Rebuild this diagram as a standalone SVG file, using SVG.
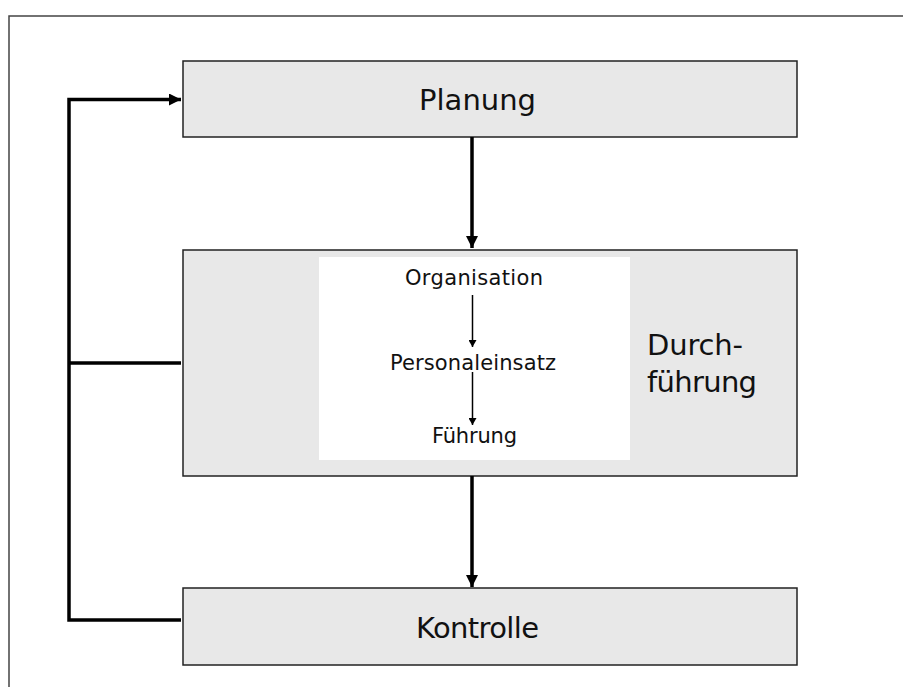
<svg xmlns="http://www.w3.org/2000/svg" width="903" height="687" viewBox="0 0 903 687">
<style>
.box{fill:#e8e8e8;stroke:#222;stroke-width:1.5}
.big{font-family:"DejaVu Sans",sans-serif;font-size:29px;fill:#111}
.small{font-family:"DejaVu Sans",sans-serif;font-size:21px;fill:#111}
.thick{fill:none;stroke:#000;stroke-width:3.5}
.thin{fill:none;stroke:#000;stroke-width:1.5}
</style>
<defs>
<marker id="ah" markerUnits="userSpaceOnUse" markerWidth="12" markerHeight="12" refX="12" refY="6" orient="auto">
<path d="M0,0 L12,6 L0,12 Z" fill="#000"/>
</marker>
<marker id="ahs" markerUnits="userSpaceOnUse" markerWidth="7" markerHeight="8" refX="7" refY="4" orient="auto">
<path d="M0,0 L7,4 L0,8 Z" fill="#000"/>
</marker>
</defs>
<rect width="903" height="687" fill="#fff"/>
<path d="M9,687 V16 H903" fill="none" stroke="#444" stroke-width="1.5"/>
<g id="planung">
<rect class="box" x="183" y="61" width="614" height="76"/>
<text class="big" x="419" y="110" textLength="117">Planung</text>
</g>
<g id="durchfuehrung">
<rect class="box" x="183" y="250" width="614" height="226"/>
<rect x="319" y="257" width="311" height="203" fill="#fff"/>
<text class="big" x="647" y="355" textLength="96">Durch-</text>
<text class="big" x="647" y="392" textLength="110">führung</text>
</g>
<g id="organisation"><text class="small" x="405" y="285" textLength="138">Organisation</text></g>
<g id="personaleinsatz"><text class="small" x="390" y="370" textLength="166">Personaleinsatz</text></g>
<g id="fuehrung"><text class="small" x="432" y="443" textLength="85">Führung</text></g>
<g id="kontrolle">
<rect class="box" x="183" y="588" width="614" height="77"/>
<text class="big" x="416" y="638" textLength="123">Kontrolle</text>
</g>
<g id="connectors">
<path class="thick" d="M472,137 V248" marker-end="url(#ah)"/>
<path class="thick" d="M472,476 V587" marker-end="url(#ah)"/>
<path class="thick" d="M181,620 H69 V99.5 H181" marker-end="url(#ah)"/>
<path class="thick" d="M69,363 H181"/>
<path class="thin" d="M472.5,295 V347" marker-end="url(#ahs)"/>
<path class="thin" d="M472.5,372 V425" marker-end="url(#ahs)"/>
</g>
</svg>
